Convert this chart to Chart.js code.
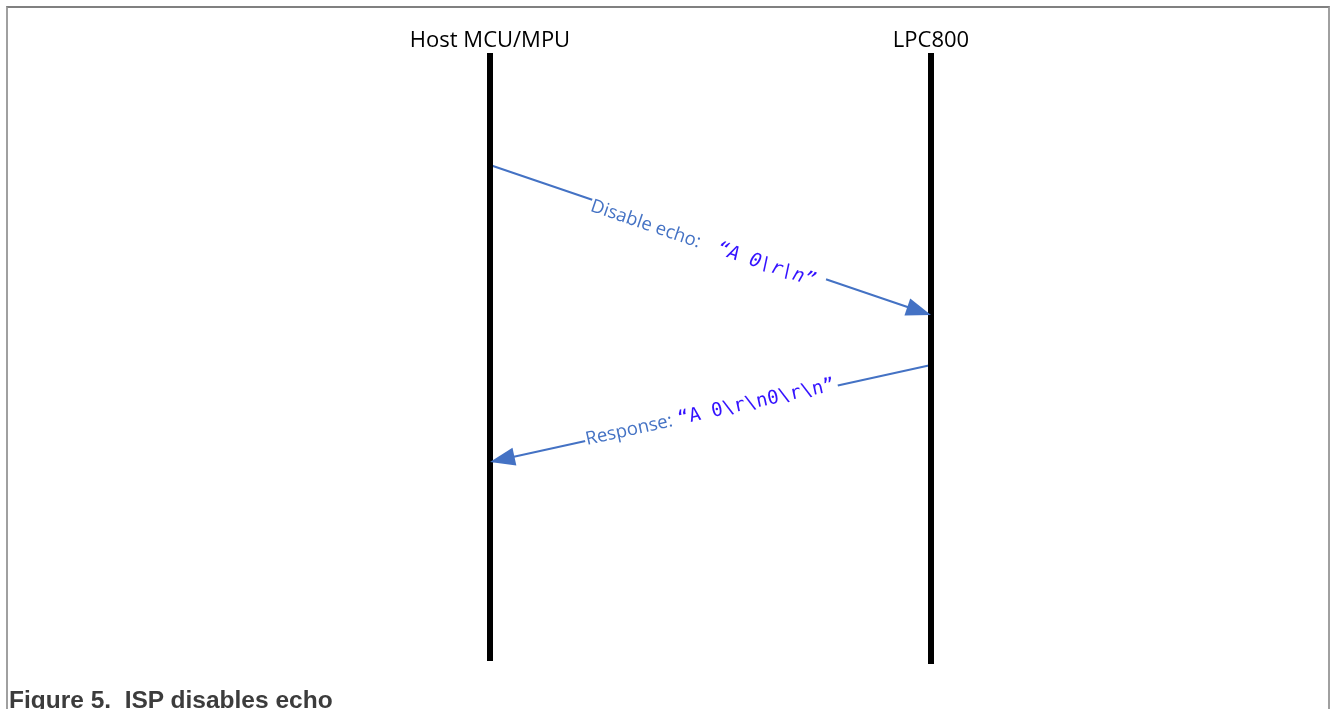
<!DOCTYPE html>
<html>
<head>
<meta charset="utf-8">
<title>Figure 5. ISP disables echo</title>
<script src="https://cdn.jsdelivr.net/npm/chart.js@4/dist/chart.umd.min.js"></script>
<style>
  html, body { margin: 0; padding: 0; background: #fff; overflow: hidden; }
  #wrap { position: relative; width: 1330px; height: 709px; }
  #frame {
    position: absolute; left: 6px; top: 6px; width: 1320px; height: 760px;
    border-top: 2px solid #808080; border-left: 2px solid #a0a0a0; border-right: 2px solid #a0a0a0;
  }
  #seq { position: absolute; left: 0; top: 0; }
  #caption {
    position: absolute; left: 9px; top: 686px; line-height: 24px;
    font: bold 24.5px "Liberation Sans", Arial, sans-serif; color: #3c3c3c; white-space: pre;
  }
</style>
</head>
<body>
<div id="wrap">
  <div id="frame"></div>
  <canvas id="seq" width="1330" height="709"></canvas>
  <div id="caption">Figure 5.  ISP disables echo</div>
</div>
<script>
// participants (lifelines), in column order
const participants = ['Host MCU/MPU', 'LPC800'];
const lifeStart = [53, 53];
const lifeEnd = [661, 664];

// messages: sender / receiver column, send time / arrival time
const msgFrom = [0, 1];
const msgTo = [1, 0];
const msgSendT = [165, 365];
const msgRecvT = [315, 462];
const msgLabel = ['Disable echo:', 'Response:'];
const msgPayload = ['“A 0\\r\\n”', '“A 0\\r\\n0\\r\\n”'];

// layout / style (kept apart from the data)
const colLeft = 490, colGap = 441, pageW = 1330, pageH = 709;
const nameBaseline = 47;
const lineBlue = '#4472C4';
const codeBlue = '#3311ff';
const labelStyle = [
  { start: 0.234, space: 18, offset: 6, padEnd: 10, mono: 'italic 19px "DejaVu Sans Mono"' },
  { start: 0.218, space: 6, offset: -1, padEnd: 3, mono: '19px "DejaVu Sans Mono"' }
];

const datasets = [];
participants.forEach((p, i) => {
  datasets.push({
    label: p,
    data: [{ x: i, y: lifeStart[i] }, { x: i, y: lifeEnd[i] }],
    borderColor: '#000',
    borderWidth: 6,
    borderCapStyle: 'butt',
    pointRadius: 0,
    showLine: true
  });
});
msgLabel.forEach((l, i) => {
  datasets.push({
    label: l,
    data: [{ x: msgFrom[i], y: msgSendT[i] }, { x: msgTo[i], y: msgRecvT[i] }],
    borderColor: lineBlue,
    borderWidth: 2,
    pointRadius: 0,
    showLine: true
  });
});

const diagramPlugin = {
  id: 'diagram',
  afterDatasetsDraw(chart) {
    const ctx = chart.ctx;
    const xs = chart.scales.x, ys = chart.scales.y;

    // lifeline names
    ctx.save();
    ctx.font = '22px "Open Sans"';
    ctx.fillStyle = '#000';
    ctx.textAlign = 'center';
    ctx.textBaseline = 'alphabetic';
    participants.forEach((name, i) => {
      ctx.fillText(name, xs.getPixelForValue(i), ys.getPixelForValue(nameBaseline));
    });
    ctx.restore();

    msgLabel.forEach((label, i) => {
      const a = { x: xs.getPixelForValue(msgFrom[i]), y: ys.getPixelForValue(msgSendT[i]) };
      const b = { x: xs.getPixelForValue(msgTo[i]), y: ys.getPixelForValue(msgRecvT[i]) };

      // arrow head at the receiver
      const dir = Math.atan2(b.y - a.y, b.x - a.x);
      const hl = 25, hw = 9;
      ctx.save();
      ctx.translate(b.x, b.y);
      ctx.rotate(dir);
      ctx.beginPath();
      ctx.moveTo(0, 0);
      ctx.lineTo(-hl, -hw);
      ctx.lineTo(-hl, hw);
      ctx.closePath();
      ctx.fillStyle = lineBlue;
      ctx.fill();
      ctx.restore();

      // label along the line, reading left to right
      const left = a.x < b.x ? a : b;
      const right = a.x < b.x ? b : a;
      const ang = Math.atan2(right.y - left.y, right.x - left.x);
      const len = Math.hypot(right.x - left.x, right.y - left.y);
      const st = labelStyle[i];
      const sans = '18.5px "Open Sans"';

      ctx.save();
      ctx.translate(left.x, left.y);
      ctx.rotate(ang);
      ctx.font = sans;
      const w1 = ctx.measureText(label).width;
      ctx.font = st.mono;
      const w2 = ctx.measureText(msgPayload[i]).width;
      const x0 = st.start * len;
      const total = w1 + st.space + w2;

      ctx.fillStyle = '#fff';
      ctx.fillRect(x0 - 1, -3, total + st.padEnd + 1, 6);

      ctx.textBaseline = 'middle';
      ctx.textAlign = 'left';
      ctx.font = sans;
      ctx.fillStyle = lineBlue;
      ctx.fillText(label, x0, st.offset);
      ctx.font = st.mono;
      ctx.fillStyle = codeBlue;
      ctx.fillText(msgPayload[i], x0 + w1 + st.space, st.offset);
      ctx.restore();
    });
  }
};

new Chart(document.getElementById('seq'), {
  type: 'scatter',
  data: { datasets: datasets },
  options: {
    responsive: false,
    animation: false,
    devicePixelRatio: 1,
    events: [],
    layout: { padding: 0 },
    plugins: { legend: { display: false }, tooltip: { enabled: false } },
    scales: {
      x: { type: 'linear', display: false, min: -colLeft / colGap, max: (pageW - colLeft) / colGap },
      y: { type: 'linear', display: false, min: 0, max: pageH, reverse: true }
    }
  },
  plugins: [diagramPlugin]
});
</script>
</body>
</html>
